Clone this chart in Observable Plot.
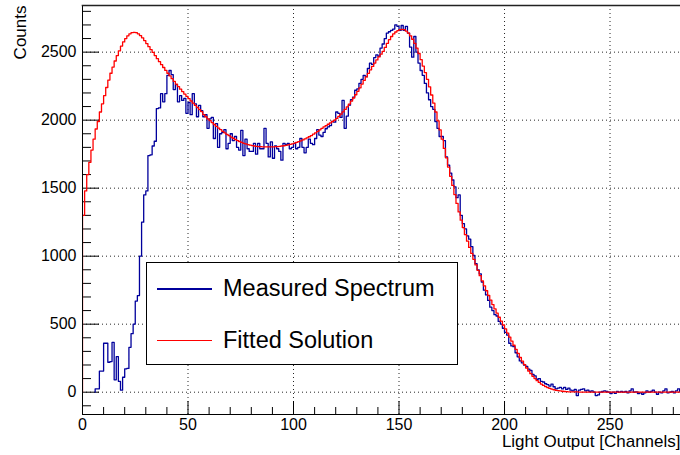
<!DOCTYPE html>
<html>
<head>
<meta charset="utf-8">
<script src="https://cdn.jsdelivr.net/npm/d3@7"></script>
<script src="https://cdn.jsdelivr.net/npm/@observablehq/plot@0.6"></script>
<style>
html, body { margin: 0; padding: 0; background: #fff; }
#wrap { position: relative; width: 680px; height: 455px; overflow: hidden; font-family: "Liberation Sans", Arial, Helvetica, sans-serif; }
#wrap svg { display: block; }
#legend { position: absolute; left: 146px; top: 262px; width: 312px; height: 103px; border: 1px solid #000; background: #fff; box-sizing: border-box; }
#legend .sw { position: absolute; left: 10px; width: 55px; height: 1.3px; }
#legend .lbl { position: absolute; left: 76px; font-size: 23.5px; line-height: 1; transform: translateY(-50%); white-space: nowrap; color: #000; }
</style>
</head>
<body>
<div id="wrap"></div>
<script>
// Measured spectrum: counts per channel (channel 0..283)
const measuredCounts = [
  0,0,0,0,0,0,25,25,155,155,
  360,360,220,225,367,91,262,80,15,110,
  172,175,330,430,500,670,710,1000,1250,1450,
  1480,1740,1745,1810,1845,2085,2090,2195,2135,2195,
  2330,2365,2335,2225,2262,2135,2180,2145,2160,2050,
  2130,2040,2195,2120,2025,2108,2070,2025,2040,1940,
  2010,2020,1865,1975,1800,1900,1910,1930,1790,1830,
  1900,1850,1880,1800,1780,1925,1740,1860,1790,1770,
  1770,1830,1750,1830,1790,1790,1940,1830,1730,1840,
  1720,1810,1790,1770,1706,1830,1820,1830,1790,1800,
  1830,1790,1800,1865,1800,1760,1800,1860,1830,1820,
  1865,1930,1890,1880,1910,1937,1950,1960,1990,1985,
  2060,2050,2020,2145,1940,2030,2110,2150,2170,2220,
  2230,2270,2300,2330,2320,2380,2420,2410,2460,2480,
  2470,2530,2560,2600,2640,2650,2660,2670,2700,2690,
  2660,2696,2660,2690,2640,2537,2463,2615,2500,2420,
  2365,2330,2270,2200,2150,2100,2080,1990,1940,1880,
  1880,1850,1730,1670,1610,1560,1510,1430,1450,1300,
  1240,1200,1150,1125,1070,1005,945,900,870,810,
  750,715,675,625,600,570,560,520,500,470,
  440,420,360,340,335,290,260,230,215,200,
  190,170,160,130,120,95,100,80,75,62,
  55,45,60,40,25,30,35,25,35,20,
  30,15,10,20,-25,15,20,25,10,15,
  5,10,0,-25,-20,0,5,10,5,0,
  -10,0,-8,5,0,5,0,5,-5,10,
  25,0,3,-10,-5,-15,-5,10,0,5,
  15,0,-15,0,-5,10,25,-5,0,5,
  -5,10,25,5
];

// Fitted solution: counts per channel (channel 0..283)
const fittedCounts = [
  1300,1480,1600,1690,1780,1860,1935,1990,2060,2120,
  2180,2240,2295,2345,2390,2435,2475,2510,2545,2575,
  2600,2620,2635,2643,2645,2643,2635,2622,2605,2585,
  2563,2540,2518,2498,2475,2452,2430,2408,2387,2366,
  2345,2325,2305,2285,2265,2246,2228,2210,2192,2175,
  2158,2141,2125,2109,2093,2078,2063,2040,2025,2010,
  1996,1982,1968,1955,1942,1930,1918,1907,1896,1886,
  1876,1867,1858,1850,1843,1836,1830,1825,1820,1816,
  1813,1810,1808,1806,1805,1804,1803,1803,1803,1803,
  1804,1805,1806,1808,1810,1812,1815,1818,1822,1826,
  1831,1836,1842,1848,1855,1862,1870,1878,1887,1897,
  1907,1918,1929,1940,1950,1960,1970,1980,1990,2000,
  2013,2028,2044,2061,2079,2098,2118,2140,2163,2187,
  2212,2238,2265,2292,2318,2344,2370,2395,2420,2443,
  2465,2485,2505,2535,2565,2592,2615,2634,2648,2658,
  2665,2668,2665,2655,2640,2620,2595,2565,2530,2490,
  2445,2398,2350,2300,2245,2185,2125,2060,1995,1928,
  1860,1792,1723,1655,1587,1520,1453,1388,1325,1265,
  1210,1158,1110,1064,1020,977,936,896,857,819,
  782,746,711,677,644,612,581,551,522,494,
  465,435,405,375,345,315,285,255,228,202,
  178,156,136,117,100,85,72,60,50,41,
  34,28,22,18,14,11,9,7,5,4,
  3,3,2,2,2,1,1,1,1,1,
  1,1,1,1,1,1,0,0,0,0,
  0,0,0,0,0,0,0,0,0,0,
  0,0,0,0,0,0,0,0,0,0,
  0,0,0,0,0,0,0,0,0,0,
  0,0,0,0
];

const xTickLabels = [0, 50, 100, 150, 200, 250];
const yTickLabels = [0, 500, 1000, 1500, 2000, 2500];
const seriesNames = ["Measured Spectrum", "Fitted Solution"];
const seriesColors = ["#00009c", "#ff0000"];
const xTitle = "Light Output [Channels]";
const yTitle = "Counts";

// histogram step outline: vertical from zero at the first drawn bin, then one step per channel
function histOutline(counts) {
  let start = 0;
  while (start < counts.length && counts[start] === 0) start++;
  const pts = [{x: start, y: 0}];
  for (let i = start; i < counts.length; i++) pts.push({x: i, y: counts[i]});
  pts.push({x: counts.length, y: counts[counts.length - 1]});
  return pts;
}
const measuredPts = histOutline(measuredCounts);
const fittedPts = histOutline(fittedCounts);

const xMinor = d3.range(10, 290, 10).filter(v => v % 50 !== 0);
const yMinor = d3.range(-100, 2900, 100).filter(v => v % 500 !== 0);

const W = 680, H = 455, mL = 82, mR = 0, mT = 5, mB = 41;
const plotW = W - mL - mR, plotH = H - mT - mB;
const font = '"Liberation Sans", Arial, Helvetica, sans-serif';
const plain = d => String(d);

const chart = Plot.plot({
  width: W, height: H,
  marginLeft: mL, marginRight: mR, marginTop: mT, marginBottom: mB,
  style: {fontFamily: font, fontSize: "16px", color: "#000", background: "#fff"},
  x: {domain: [0, 283.4]},
  y: {domain: [-164, 2843]},
  marks: [
    Plot.gridX(xTickLabels.filter(v => v > 0), {stroke: "#000", strokeOpacity: 0.85, strokeDasharray: "1,3"}),
    Plot.gridY(yTickLabels, {stroke: "#000", strokeOpacity: 0.85, strokeDasharray: "1,3"}),
    Plot.tickX(xTickLabels, {x: d => d, stroke: "#000", insetTop: plotH - 13}),
    Plot.tickX(xMinor, {x: d => d, stroke: "#000", insetTop: plotH - 7}),
    Plot.tickY(yTickLabels, {y: d => d, stroke: "#000", insetRight: plotW - 17}),
    Plot.tickY(yMinor, {y: d => d, stroke: "#000", insetRight: plotW - 9}),
    Plot.line(measuredPts, {x: "x", y: "y", curve: "step-after", stroke: seriesColors[0], strokeWidth: 1.3, clip: true}),
    Plot.line(fittedPts, {x: "x", y: "y", curve: "step-after", stroke: seriesColors[1], strokeWidth: 1.3, clip: true}),
    Plot.axisX(xTickLabels, {tickSize: 0, tickPadding: 4, label: null, fontSize: 16, tickFormat: plain}),
    Plot.axisY(yTickLabels, {tickSize: 0, tickPadding: 6, label: null, fontSize: 16, tickFormat: plain}),
    Plot.text([yTitle], {frameAnchor: "top-left", text: d => d, rotate: -90, textAnchor: "end", lineAnchor: "bottom", dx: -57, fontSize: 17}),
    Plot.text([xTitle], {frameAnchor: "bottom-right", text: d => d, textAnchor: "end", lineAnchor: "bottom", dy: 32, fontSize: 17}),
    Plot.frame({anchor: "left", stroke: "#000"}),
    Plot.frame({anchor: "bottom", stroke: "#000"}),
    Plot.frame({anchor: "top", stroke: "#222", strokeWidth: 1.6})
  ]
});

const wrap = document.getElementById("wrap");
wrap.appendChild(chart);

// legend box
const legend = document.createElement("div");
legend.id = "legend";
const rowY = [26, 77.5];
seriesNames.forEach((name, i) => {
  const sw = document.createElement("div");
  sw.className = "sw";
  sw.style.top = (rowY[i] - 0.65) + "px";
  sw.style.background = seriesColors[i];
  legend.appendChild(sw);
  const lbl = document.createElement("div");
  lbl.className = "lbl";
  lbl.style.top = rowY[i] + "px";
  lbl.textContent = name;
  legend.appendChild(lbl);
});
wrap.appendChild(legend);
</script>
</body>
</html>
